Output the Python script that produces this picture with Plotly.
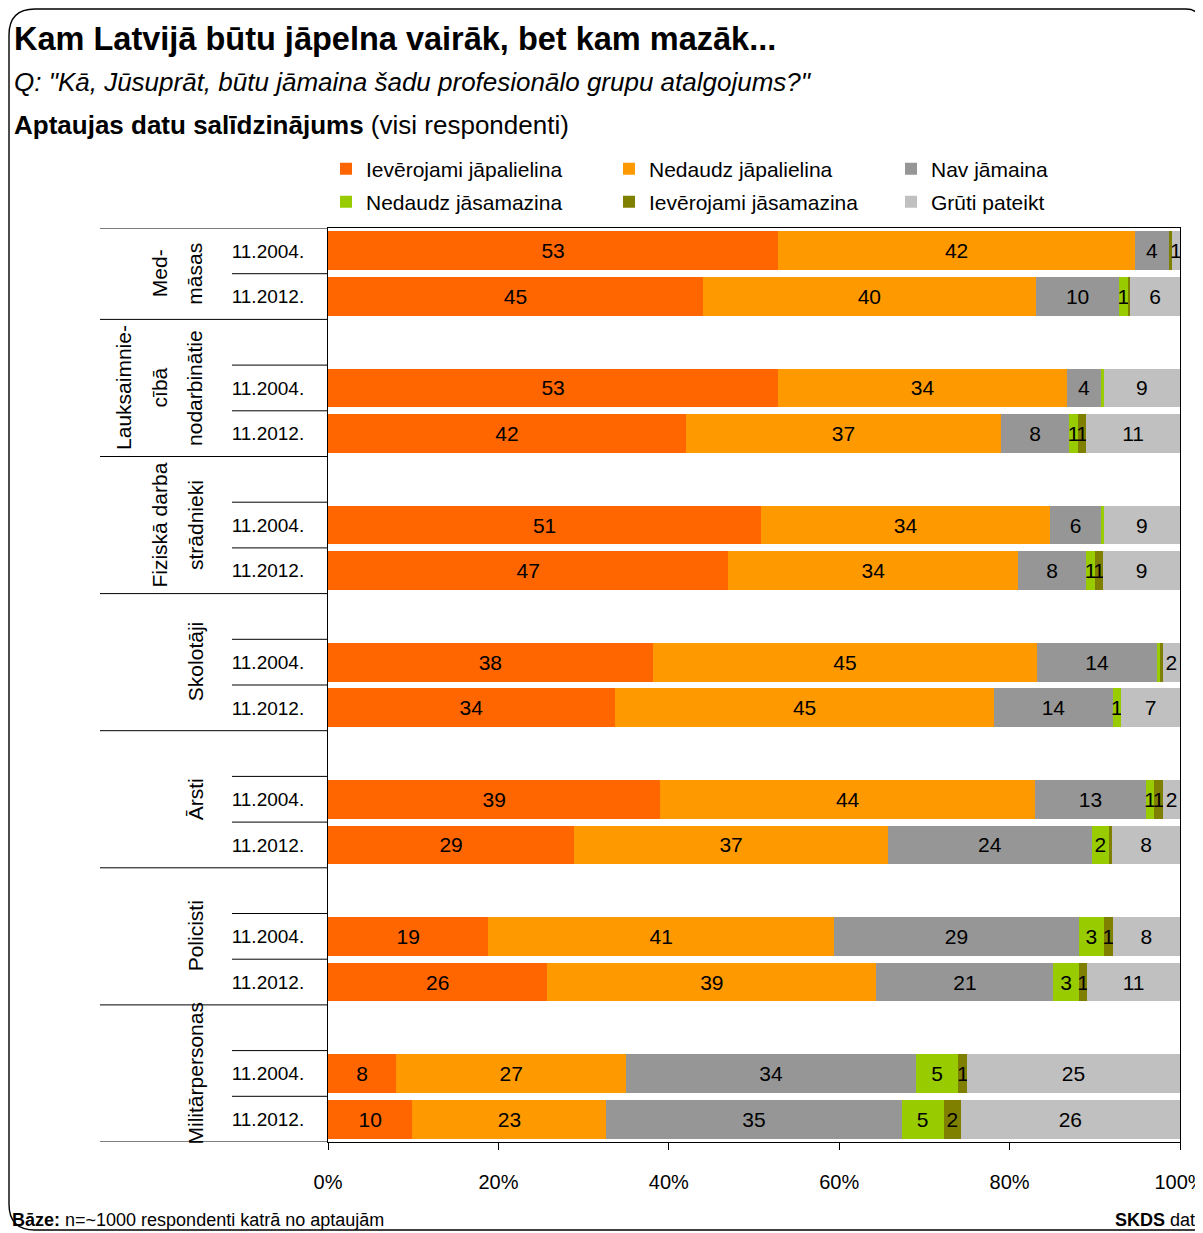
import plotly.graph_objects as go

# page body has an 8px margin, so the figure is drawn 8px smaller and
# every position below is given in reference-picture pixels
OFF = 8
W, H = 1203 - OFF, 1233 - OFF
L, R, T, B = 328, 1180, 228, 1142  # plot area in reference pixels

FONT = "Liberation Sans, Arial, sans-serif"

# ---------------- data ----------------
group_lines = [
    ["Med-", "māsas"],
    ["Lauksaimnie-", "cībā", "nodarbinātie"],
    ["Fiziskā darba", "strādnieki"],
    ["Skolotāji"],
    ["Ārsti"],
    ["Policisti"],
    ["Militārpersonas"],
]
periods = ["11.2004.", "11.2012."]

series_names = ["Ievērojami jāpalielina", "Nedaudz jāpalielina", "Nav jāmaina",
                "Nedaudz jāsamazina", "Ievērojami jāsamazina", "Grūti pateikt"]
colors = ["#FF6600", "#FF9900", "#969696", "#99CC00", "#808000", "#C0C0C0"]

# values per row: group by group, 11.2004. then 11.2012.
ieverojami_japalielina = [53, 45, 53, 42, 51, 47, 38, 34, 39, 29, 19, 26, 8, 10]
nedaudz_japalielina    = [42, 40, 34, 37, 34, 34, 45, 45, 44, 37, 41, 39, 27, 23]
nav_jamaina            = [4, 10, 4, 8, 6, 8, 14, 14, 13, 24, 29, 21, 34, 35]
nedaudz_jasamazina     = [0, 1, 0.3, 1, 0.3, 1, 0.4, 1, 1, 2, 3, 3, 5, 5]
ieverojami_jasamazina  = [0.3, 0.3, 0, 1, 0, 1, 0.3, 0, 1, 0.4, 1, 1, 1, 2]
gruti_pateikt          = [1, 6, 9, 11, 9, 9, 2, 7, 2, 8, 8, 11, 25, 26]

series_values = [ieverojami_japalielina, nedaudz_japalielina, nav_jamaina,
                 nedaudz_jasamazina, ieverojami_jasamazina, gruti_pateikt]

x_tickvals = [0, 20, 40, 60, 80, 100]
x_ticktext = ["0%", "20%", "40%", "60%", "80%", "100%"]

# ---------------- helpers ----------------
def px(xp):
    return (xp - L) / (R - L)

def py(yp):
    return (B - yp) / (B - T)

# build row structure
data_y, tick_text, group_ranges = [], [], []
idx = 0
for g, lines in enumerate(group_lines):
    start = idx
    if g > 0:
        idx += 1  # blank spacer row
    for p in periods:
        data_y.append(idx)
        tick_text.append(p)
        idx += 1
    group_ranges.append((start, idx - 1))
n_rows = idx

fig = go.Figure()
legend_names = ["legend", "legend2", "legend3", "legend4", "legend5", "legend6"]
for k, (name, vals, col) in enumerate(zip(series_names, series_values, colors)):
    labels = [str(int(round(v))) if v >= 0.5 else "" for v in vals]
    fig.add_trace(go.Bar(
        x=vals, y=data_y, orientation="h", name=name,
        marker=dict(color=col, line=dict(width=0)),
        text=labels, textposition="inside", insidetextanchor="middle",
        textangle=0, textfont=dict(size=21, color="black", family=FONT),
        legend=legend_names[k], hoverinfo="name+x",
    ))

# legends: 3 columns x 2 rows
leg_cols = [340, 623, 905]
leg_rows = [169, 202]
layout_legends = {}
for k, ln in enumerate(legend_names):
    cx = leg_cols[k % 3]
    cy = leg_rows[k // 3]
    layout_legends[ln] = dict(
        xref="paper", yref="paper",
        x=px(cx - 14), y=py(cy), xanchor="left", yanchor="middle",
        font=dict(size=21, family=FONT, color="black"),
        bgcolor="rgba(0,0,0,0)", borderwidth=0, itemwidth=30,
        tracegroupgap=0,
    )

shapes = []
# left table lines
for (s, e) in group_ranges:
    shapes.append(dict(type="line", xref="paper", yref="y", x0=px(100), x1=0,
                       y0=s - 0.5, y1=s - 0.5, line=dict(color="black", width=1)))
    for r in range(s, e):
        shapes.append(dict(type="line", xref="paper", yref="y", x0=px(232), x1=0,
                           y0=r + 0.5, y1=r + 0.5, line=dict(color="black", width=1)))
shapes.append(dict(type="line", xref="paper", yref="y", x0=px(100), x1=0,
                   y0=n_rows - 0.5, y1=n_rows - 0.5, line=dict(color="black", width=1)))

# outer rounded frame
rr = 26
fx0, fy0, fx1, fy1 = 9, 9, 1200, 1230
path = (f"M {px(fx1)},{py(1260)} L {px(fx1)},{py(fy0 + 14)} "
        f"Q {px(fx1)},{py(fy0)} {px(fx1 - 14)},{py(fy0)} "
        f"L {px(fx0 + rr)},{py(fy0)} Q {px(fx0)},{py(fy0)} {px(fx0)},{py(fy0 + rr)} "
        f"L {px(fx0)},{py(fy1 - rr)} Q {px(fx0)},{py(fy1)} {px(fx0 + rr)},{py(fy1)} "
        f"L {px(1260)},{py(fy1)}")
shapes.append(dict(type="path", xref="paper", yref="paper", path=path,
                   line=dict(color="black", width=1.4)))

annotations = []
# group labels (rotated)
for lines, (s, e) in zip(group_lines, group_ranges):
    n = len(lines)
    cy = (s + e) / 2
    for j, t in enumerate(lines):
        xp = 195 - (n - 1 - j) * 35.5
        annotations.append(dict(text=t, xref="paper", yref="y", x=px(xp), y=cy,
                                textangle=-90, showarrow=False, xanchor="center",
                                yanchor="middle",
                                font=dict(size=21, family=FONT, color="black")))

def txt(t, x, y, size, anchor="left"):
    annotations.append(dict(text=t, xref="paper", yref="paper", x=px(x), y=py(y),
                            showarrow=False, xanchor=anchor, yanchor="middle",
                            font=dict(size=size, family=FONT, color="black")))

txt("<b>Kam Latvijā būtu jāpelna vairāk, bet kam mazāk...</b>", 12, 39, 32.5)
txt("<i>Q: \"Kā, Jūsuprāt, būtu jāmaina šadu profesionālo grupu atalgojums?\"</i>", 12, 82, 26)
txt("<b>Aptaujas datu salīdzinājums</b> (visi respondenti)", 12, 125, 26)
txt("<b>Bāze:</b> n=~1000 respondenti katrā no aptaujām", 10, 1220, 18)
txt("<b>SKDS</b> dati", 1113, 1220, 18)

fig.update_layout(
    width=W, height=H,
    margin=dict(l=L - OFF, r=W - (R - OFF), t=T - OFF, b=H - (B - OFF), pad=0,
                autoexpand=False),
    paper_bgcolor="white", plot_bgcolor="white",
    barmode="stack", barnorm="percent", bargap=0.15,
    uniformtext=dict(minsize=21, mode="show"),
    font=dict(family=FONT, color="black"),
    showlegend=True,
    shapes=shapes, annotations=annotations,
    **layout_legends,
)
fig.update_xaxes(range=[0, 100], tickvals=x_tickvals, ticktext=x_ticktext,
                 showline=True, mirror=True, linecolor="black", linewidth=1,
                 ticks="outside", ticklen=7, tickcolor="black",
                 ticklabelstandoff=15, ticklabeloverflow="allow",
                 showgrid=False, zeroline=False,
                 tickfont=dict(size=20, family=FONT, color="black"), fixedrange=True)
fig.update_yaxes(range=[n_rows - 0.5, -0.5], tickvals=data_y, ticktext=tick_text,
                 showline=True, mirror=True, linecolor="black", linewidth=1,
                 ticks="", ticklabelstandoff=19, showgrid=False, zeroline=False,
                 tickfont=dict(size=19, family=FONT, color="black"), fixedrange=True)

fig.write_html("out.html")
